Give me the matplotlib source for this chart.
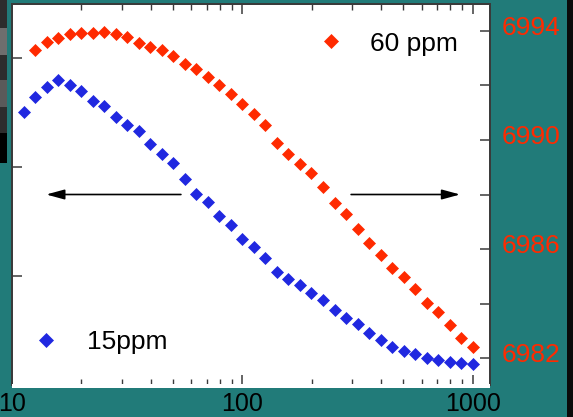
import numpy as np
import matplotlib
matplotlib.use("Agg")
import matplotlib.pyplot as plt
from matplotlib.lines import Line2D
from matplotlib.patches import Rectangle
from matplotlib.ticker import FixedLocator, FuncFormatter, LogLocator, NullFormatter
import matplotlib.transforms as mtransforms

# ---- data ----
log_x_red = np.arange(1.10, 3.0001, 0.05)     # 39 points, 12.6 .. 1000
log_x_blue = np.arange(1.05, 3.0001, 0.05)    # 40 points, 11.2 .. 1000
x_red = 10 ** log_x_red
x_blue = 10 ** log_x_blue

# 60 ppm (right axis)
y_red = [6993.29, 6993.58, 6993.72, 6993.87, 6993.93, 6993.93, 6993.94, 6993.87,
         6993.78, 6993.56, 6993.41, 6993.29, 6993.07, 6992.78, 6992.59, 6992.29,
         6992.01, 6991.67, 6991.32, 6990.95, 6990.53, 6989.90, 6989.48, 6989.12,
         6988.78, 6988.29, 6987.69, 6987.29, 6986.73, 6986.23, 6985.78, 6985.30,
         6984.97, 6984.54, 6984.04, 6983.71, 6983.22, 6982.73, 6982.42]

# 15 ppm (left axis)
y_blue = [6990.02, 6990.58, 6990.95, 6991.19, 6991.01, 6990.80, 6990.44, 6990.24,
          6989.83, 6989.53, 6989.33, 6988.84, 6988.48, 6988.14, 6987.57, 6987.02,
          6986.71, 6986.22, 6985.88, 6985.37, 6985.09, 6984.69, 6984.17, 6983.90,
          6983.68, 6983.40, 6983.14, 6982.77, 6982.49, 6982.26, 6981.92, 6981.67,
          6981.42, 6981.27, 6981.15, 6981.00, 6980.94, 6980.88, 6980.82, 6980.79]

x_ticks = [10, 100, 1000]
x_tick_labels = ["10", "100", "1000"]
right_ticks = [6982, 6984, 6986, 6988, 6990, 6992, 6994]
right_labeled = [6982, 6986, 6990, 6994]
left_ticks = [6980, 6984, 6988, 6992]

label_red = "60 ppm"
label_blue = "15ppm"

RED = "#ff2a00"
BLUE = "#2028e0"
TEAL = "#217b79"
SPINE = "#3a3a3a"

plt.rcParams['font.family'] = ['Liberation Sans', 'DejaVu Sans']

W, H = 573, 417
fig = plt.figure(figsize=(W / 100, H / 100), dpi=100, facecolor=TEAL)

def fx(px):
    return px / W

def fy(py):
    return 1 - py / H

# screenshot artefacts
fig.patches.append(Rectangle((fx(0), fy(163)), fx(7), 163 / H, transform=fig.transFigure,
                             facecolor="#2d2d2d", edgecolor="none", zorder=0))
for (y0, y1, c) in [(28, 55, "#6e6e6e"), (80, 107, "#5a5a5a"), (133, 163, "#000000")]:
    fig.patches.append(Rectangle((fx(0), fy(y1)), fx(7), (y1 - y0) / H,
                                 transform=fig.transFigure, facecolor=c,
                                 edgecolor="none", zorder=0))
fig.patches.append(Rectangle((fx(567), 0), fx(6), 1, transform=fig.transFigure,
                             facecolor="#0a0a0a", edgecolor="none", zorder=0))
fig.patches.append(Rectangle((fx(12), fy(388)), fx(478), 4 / H, transform=fig.transFigure,
                             facecolor="white", edgecolor="none", zorder=0))

left, right, top, bottom = 12, 489.5, 4, 385
ax = fig.add_axes([fx(left), fy(bottom), fx(right - left), (bottom - top) / H])
ax.set_facecolor("white")
ax2 = ax.twinx()

ax.set_xscale("log")
ax.set_xlim(10, 10 ** (3 + (right - 472.7) / 231))
ax.set_ylim(6980.02, 6993.98)
ax2.set_ylim(6981.02, 6994.98)

ax.plot(x_blue, y_blue, linestyle="none", marker="D", ms=6.4, mew=0.5,
        color=BLUE, mec=BLUE, zorder=3)
ax2.plot(x_red, y_red, linestyle="none", marker="D", ms=6.4, mew=0.5,
         color=RED, mec=RED, zorder=3)

# x axis ticks
ax.xaxis.set_major_locator(FixedLocator(x_ticks))
ax.set_xticklabels(x_tick_labels)
ax.xaxis.set_minor_locator(LogLocator(base=10, subs=np.arange(2, 10)))
ax.xaxis.set_minor_formatter(NullFormatter())
ax.tick_params(axis="x", which="major", direction="in", length=7.5, width=1.1,
               color=SPINE, top=True, labelsize=18, pad=5, labelcolor="black")
ax.tick_params(axis="x", which="minor", direction="in", length=4.3, width=1.0,
               color=SPINE, top=True)

# left axis
ax.yaxis.set_major_locator(FixedLocator(left_ticks))
ax.yaxis.set_minor_locator(FixedLocator([]))
ax.tick_params(axis="y", which="major", direction="in", length=7.5, width=1.1,
               color=SPINE, labelleft=False)

# right axis
ax2.yaxis.set_major_locator(FixedLocator(right_ticks))
ax2.yaxis.set_major_formatter(FuncFormatter(
    lambda v, p: f"{int(round(v))}" if int(round(v)) in right_labeled else ""))
ax2.tick_params(axis="y", which="major", direction="in", length=7.5, width=1.1,
                color=SPINE, labelsize=19, labelcolor=RED, pad=9)
offset = mtransforms.ScaledTranslation(0, 4 / 72, fig.dpi_scale_trans)
for lab in ax2.get_yticklabels():
    lab.set_transform(lab.get_transform() + offset)

for a in (ax, ax2):
    for s in a.spines.values():
        s.set_color(SPINE)
        s.set_linewidth(1.3)

# arrows at y = 6988 on right scale
ax2.annotate("", xy=(14.08, 6988), xytext=(54.1, 6988),
             arrowprops=dict(arrowstyle="-|>,head_length=1.1,head_width=0.3",
                             mutation_scale=10, lw=1.2, color="black",
                             shrinkA=0, shrinkB=0))
ax2.annotate("", xy=(881, 6988), xytext=(296.5, 6988),
             arrowprops=dict(arrowstyle="-|>,head_length=1.1,head_width=0.3",
                             mutation_scale=10, lw=1.2, color="black",
                             shrinkA=0, shrinkB=0))

# legends
h_red = Line2D([], [], linestyle="none", marker="D", ms=7, color=RED, mec=RED, mew=0.5)
h_blue = Line2D([], [], linestyle="none", marker="D", ms=7, color=BLUE, mec=BLUE, mew=0.5)
leg1 = ax2.legend([h_red], [label_red], loc="center left",
                  bbox_to_anchor=(0.640, 0.896), frameon=False, fontsize=19,
                  handlelength=1.0, handletextpad=1.0, borderpad=0, borderaxespad=0)
ax2.add_artist(leg1)
leg2 = ax2.legend([h_blue], [label_blue], loc="center left",
                  bbox_to_anchor=(0.043, 0.113), frameon=False, fontsize=19,
                  handlelength=1.0, handletextpad=1.05, borderpad=0, borderaxespad=0)

fig.savefig("out.png", dpi=100, facecolor=TEAL)
